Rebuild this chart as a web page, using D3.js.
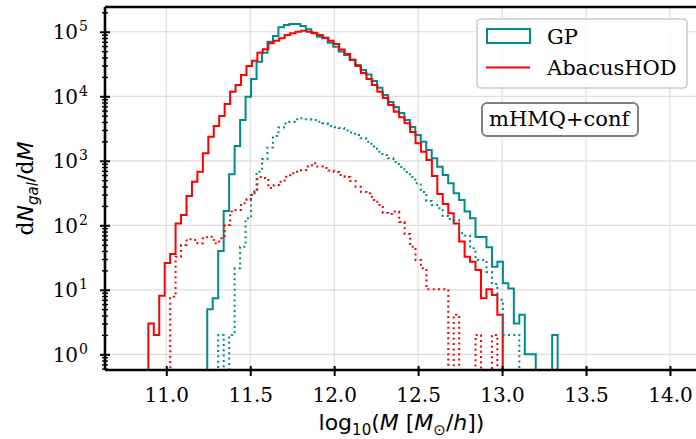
<!DOCTYPE html>
<html>
<head>
<meta charset="utf-8">
<script src="https://cdn.jsdelivr.net/npm/d3@7"></script>
<style>
  body { margin: 0; background: #fff; }
  svg { display: block; }
</style>
</head>
<body>
<svg id="chart" width="696" height="439"></svg>
<script>
// histogram bins (log10 M)
const abStart = 10.893
const abWidth = 0.03248
const gpStart = 11.244
const gpWidth = 0.03261

// AbacusHOD, all galaxies (solid) and the dotted subset
const abSolid = [3.0, 2.0, 8.1, 26, 36, 107, 144, 284, 474, 677,
  1307, 2364, 3466, 4950, 7590, 11800, 14960, 21400, 29500, 35600,
  47400, 53600, 66400, 72800, 79300, 89200, 94800, 100000, 104000, 100000,
  94800, 89000, 81000, 72800, 64600, 53200, 45300, 36500, 29500, 23000,
  18500, 15000, 11800, 9400, 7330, 5770, 4720, 3810, 2790, 1870,
  1380, 1030, 581, 305, 214, 153, 107, 56, 32.6, 27.3,
  20.3, 7.4, 10.2, 8.3, 4.1]
const abDotted = [0, 0, 0, 0, 7.8, 32.6, 49.5, 60.7, 59.2, 52.6,
  65.2, 66.6, 52.6, 62.9, 101, 163, 173, 219, 256, 332,
  561, 541, 379, 421, 474, 567, 640, 678, 720, 813,
  914, 813, 773, 708, 670, 603, 561, 486, 396, 328,
  313, 247, 206, 155, 150, 163, 112, 73, 46.6, 29,
  21.5, 10.2, 10.2, 10.2, 10.2, 0, 4.1, 0, 0, 0,
  2.0, 0, 0, 2.0, 0]

// GP, all galaxies (solid) and the dotted subset
const gpSolid = [5.0, 7.4, 40, 167, 617, 1690, 4290, 9860, 18500, 34400,
  47400, 70200, 86000, 117000, 127000, 132000, 132000, 123000, 109000, 96800,
  84000, 79400, 67600, 58800, 49300, 43700, 37200, 30600, 25600, 21800,
  17300, 13500, 10500, 8170, 6830, 5510, 4290, 3340, 2510, 1980,
  1470, 1090, 811, 603, 448, 313, 247, 163, 128, 66,
  66, 45.6, 22.8, 27.3, 12.6, 10.5, 3.0, 4.1, 1, 1,
  0, 0, 0, 2.0]
const gpDotted = [0, 0, 2.0, 0, 2.0, 21.5, 46.6, 128, 313, 678,
  1070, 1610, 2420, 3280, 3790, 4040, 4400, 4560, 4400, 4290,
  4040, 3810, 3460, 3310, 3230, 2950, 2750, 2510, 2230, 1980,
  1660, 1380, 1230, 1090, 958, 802, 670, 561, 448, 328,
  238, 206, 183, 139, 125, 121, 75.2, 69.5, 44, 29,
  29, 18.9, 12.3, 7.0, 2.0, 2.0, 2.0, 0, 0, 0,
  0, 0, 0, 0]

const xTicks = [11.0, 11.5, 12.0, 12.5, 13.0, 13.5, 14.0]
const yExps = [0, 1, 2, 3, 4, 5]

const teal = '#008b8b'
const red = '#ff0000'

const svg = d3.select('#chart')
const pLeft = 105, pRight = 698, pTop = 7, pBottom = 370

const x = d3.scaleLinear().domain([10.635, 14.167]).range([pLeft, pRight])
const y = d3.scaleLog().domain([Math.pow(10, -0.2434), Math.pow(10, 5.384)]).range([pBottom, pTop])

svg.append('defs').append('clipPath').attr('id', 'plotclip')
  .append('rect')
  .attr('x', pLeft).attr('y', pTop)
  .attr('width', pRight - pLeft).attr('height', pBottom - pTop)

// grid
const grid = svg.append('g')
grid.selectAll('.gx').data(xTicks).enter().append('line')
  .attr('x1', d => x(d)).attr('x2', d => x(d))
  .attr('y1', pTop).attr('y2', pBottom)
  .attr('stroke', '#dedede').attr('stroke-width', 1.2)
grid.selectAll('.gy').data(yExps).enter().append('line')
  .attr('x1', pLeft).attr('x2', pRight)
  .attr('y1', d => y(Math.pow(10, d))).attr('y2', d => y(Math.pow(10, d)))
  .attr('stroke', '#dedede').attr('stroke-width', 1.2)

// step histograms
const floorVal = 1e-3
function stepPoints(start, width, counts) {
  const pts = [[start, floorVal]]
  counts.forEach((c, i) => pts.push([start + i * width, c > 0 ? c : floorVal]))
  const end = start + counts.length * width
  const last = counts[counts.length - 1]
  pts.push([end, last > 0 ? last : floorVal])
  pts.push([end, floorVal])
  return pts
}

const line = d3.line()
  .x(d => x(d[0]))
  .y(d => y(d[1]))
  .curve(d3.curveStepAfter)

const plot = svg.append('g').attr('clip-path', 'url(#plotclip)')

const series = [
  { start: gpStart, width: gpWidth, counts: gpSolid, color: teal, dash: null },
  { start: abStart, width: abWidth, counts: abSolid, color: red, dash: null },
  { start: gpStart, width: gpWidth, counts: gpDotted, color: teal, dash: '2,3.3' },
  { start: abStart, width: abWidth, counts: abDotted, color: red, dash: '2,3.3' }
]

series.forEach(s => {
  plot.append('path')
    .attr('d', line(stepPoints(s.start, s.width, s.counts)))
    .attr('fill', 'none')
    .attr('stroke', s.color)
    .attr('stroke-width', 2)
    .attr('stroke-dasharray', s.dash)
})

// spines
svg.append('line').attr('x1', pLeft).attr('x2', pLeft).attr('y1', pTop).attr('y2', pBottom)
  .attr('stroke', '#000').attr('stroke-width', 2.6)
svg.append('line').attr('x1', pLeft).attr('x2', pRight).attr('y1', pBottom).attr('y2', pBottom)
  .attr('stroke', '#000').attr('stroke-width', 2.6)
svg.append('line').attr('x1', pLeft).attr('x2', pRight).attr('y1', pTop).attr('y2', pTop)
  .attr('stroke', '#000').attr('stroke-width', 2.6)

// x axis
const gx = svg.append('g').attr('transform', `translate(0,${pBottom})`)
  .call(d3.axisBottom(x).tickValues(xTicks).tickFormat(d3.format('.1f')).tickSize(6))
gx.attr('font-family', 'DejaVu Serif')
gx.select('.domain').remove()
gx.selectAll('.tick line').attr('y1', -4).attr('y2', 6)
  .attr('stroke', '#000').attr('stroke-width', 2)
gx.selectAll('.tick text')
  .attr('y', 18).attr('dy', '0.71em')
  .attr('font-family', 'DejaVu Serif').attr('font-size', 20).attr('fill', '#000')

// y axis, major and minor ticks
const minor = []
yExps.concat([-1]).forEach(e => {
  for (let k = 2; k <= 9; k++) minor.push(k * Math.pow(10, e))
})
const yDom = y.domain()
const minorIn = minor.filter(v => v >= yDom[0] && v <= yDom[1])

const gy = svg.append('g').attr('transform', `translate(${pLeft},0)`)
  .call(d3.axisLeft(y).tickValues(yExps.map(e => Math.pow(10, e))).tickFormat('').tickSize(5))
gy.select('.domain').remove()
gy.selectAll('.tick line').attr('x1', 5).attr('x2', -5)
  .attr('stroke', '#000').attr('stroke-width', 2)

const gym = svg.append('g').attr('transform', `translate(${pLeft},0)`)
  .call(d3.axisLeft(y).tickValues(minorIn).tickFormat('').tickSize(3))
gym.select('.domain').remove()
gym.selectAll('.tick line').attr('x1', 3).attr('x2', -3)
  .attr('stroke', '#000').attr('stroke-width', 1.4)

const ylab = svg.append('g')
yExps.forEach(e => {
  const t = ylab.append('text')
    .attr('x', 88).attr('y', y(Math.pow(10, e)) + 7.5)
    .attr('text-anchor', 'end')
    .attr('font-family', 'DejaVu Serif').attr('font-size', 20).attr('fill', '#000')
  t.append('tspan').text('10')
  t.append('tspan').attr('font-size', 14).attr('dy', -8).attr('dx', 1).text(e)
})

// axis labels
const xl = svg.append('text')
  .attr('x', (pLeft + pRight) / 2).attr('y', 430)
  .attr('text-anchor', 'middle')
  .attr('font-family', 'DejaVu Sans').attr('font-size', 22).attr('fill', '#000')
xl.append('tspan').text('log')
xl.append('tspan').attr('font-size', 15).attr('dy', 5).text('10')
xl.append('tspan').attr('dy', -5).text('(')
xl.append('tspan').attr('font-style', 'italic').text('M')
xl.append('tspan').text(' [')
xl.append('tspan').attr('font-style', 'italic').text('M')
xl.append('tspan').attr('font-size', 15).attr('dy', 5).text('⊙')
xl.append('tspan').attr('dy', -5).text('/')
xl.append('tspan').attr('font-style', 'italic').text('h')
xl.append('tspan').text('])')

const yl = svg.append('text')
  .attr('transform', `translate(33,${(pTop + pBottom) / 2}) rotate(-90)`)
  .attr('text-anchor', 'middle')
  .attr('font-family', 'DejaVu Serif').attr('font-size', 22).attr('fill', '#000')
yl.append('tspan').text('d')
yl.append('tspan').attr('font-family', 'DejaVu Sans').attr('font-style', 'italic').text('N')
yl.append('tspan').attr('font-family', 'DejaVu Sans').attr('font-style', 'italic')
  .attr('font-size', 15).attr('dy', 5).text('gal')
yl.append('tspan').attr('dy', -5).text('/d')
yl.append('tspan').attr('font-family', 'DejaVu Sans').attr('font-style', 'italic').text('M')

// legend
const leg = svg.append('g')
leg.append('rect').attr('x', 477).attr('y', 19).attr('width', 210).attr('height', 69)
  .attr('rx', 4).attr('fill', '#fff').attr('fill-opacity', 0.8)
  .attr('stroke', '#cccccc').attr('stroke-width', 1.6)
leg.append('rect').attr('x', 487).attr('y', 29).attr('width', 43).attr('height', 14)
  .attr('fill', '#fff').attr('stroke', teal).attr('stroke-width', 2)
leg.append('text').attr('x', 547).attr('y', 44)
  .attr('font-family', 'DejaVu Serif').attr('font-size', 21).attr('fill', '#000').text('GP')
leg.append('line').attr('x1', 486).attr('x2', 530).attr('y1', 67.5).attr('y2', 67.5)
  .attr('stroke', red).attr('stroke-width', 2)
leg.append('text').attr('x', 547).attr('y', 75)
  .attr('font-family', 'DejaVu Serif').attr('font-size', 21).attr('fill', '#000').text('AbacusHOD')

// model tag
svg.append('rect').attr('x', 482).attr('y', 103).attr('width', 156).attr('height', 33)
  .attr('rx', 5).attr('fill', '#fff').attr('stroke', '#808080').attr('stroke-width', 2)
svg.append('text').attr('x', 489).attr('y', 126)
  .attr('font-family', 'DejaVu Serif').attr('font-size', 21).attr('fill', '#000').text('mHMQ+conf')
</script>
</body>
</html>
